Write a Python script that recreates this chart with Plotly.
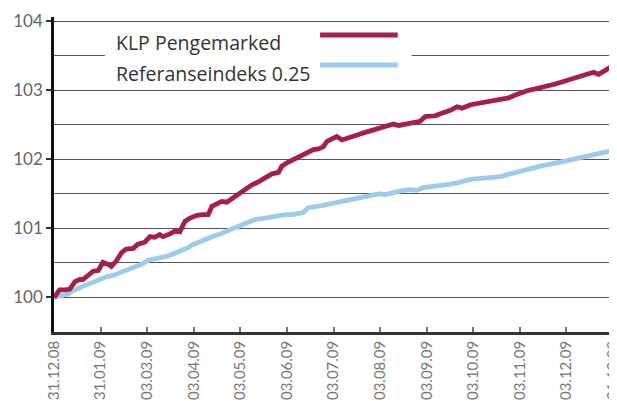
import plotly.graph_objects as go

# x in units of tick intervals (0 = 31.12.08, 12 = 31.12.09)
tick_labels = ["31.12.08", "31.01.09", "03.03.09", "03.04.09", "03.05.09", "03.06.09",
               "03.07.09", "03.08.09", "03.09.09", "03.10.09", "03.11.09", "03.12.09", "31.12.09"]

klp_x = [0, 0.12, 0.26, 0.34, 0.45, 0.55, 0.62, 0.73, 0.84, 0.95, 1.05, 1.16, 1.23, 1.34, 1.45,
         1.55, 1.70, 1.80, 1.95, 2.06, 2.16, 2.27, 2.34, 2.49, 2.59, 2.70, 2.81, 2.92, 3.07, 3.21,
         3.31, 3.39, 3.49, 3.60, 3.71, 3.82, 3.92, 4.03, 4.14, 4.25, 4.35, 4.46, 4.57, 4.68, 4.82,
         4.89, 5.00, 5.11, 5.25, 5.35, 5.46, 5.57, 5.68, 5.78, 5.86, 5.93, 6.07, 6.18, 6.29, 6.43,
         6.54, 6.68, 6.82, 6.97, 7.11, 7.29, 7.40, 7.54, 7.68, 7.86, 7.97, 8.08, 8.18, 8.29, 8.40,
         8.51, 8.65, 8.76, 8.94, 9.11, 9.26, 9.40, 9.51, 9.62, 9.76, 9.90, 10.05, 10.19, 10.33,
         10.48, 10.62, 10.76, 10.90, 11.05, 11.19, 11.33, 11.48, 11.58, 11.69, 11.83, 11.94, 12.0]
klp_y = [100.0, 100.11, 100.11, 100.12, 100.23, 100.26, 100.26, 100.32, 100.38, 100.39, 100.51,
         100.48, 100.45, 100.53, 100.65, 100.70, 100.71, 100.77, 100.80, 100.88, 100.87, 100.91,
         100.88, 100.92, 100.96, 100.95, 101.10, 101.15, 101.19, 101.20, 101.20, 101.32, 101.36,
         101.39, 101.38, 101.43, 101.48, 101.54, 101.57, 101.63, 101.66, 101.70, 101.75, 101.79,
         101.81, 101.90, 101.95, 101.99, 102.03, 102.07, 102.10, 102.14, 102.15, 102.18, 102.26,
         102.28, 102.33, 102.28, 102.31, 102.33, 102.36, 102.39, 102.42, 102.44, 102.48, 102.51,
         102.49, 102.51, 102.53, 102.55, 102.62, 102.63, 102.63, 102.66, 102.68, 102.71, 102.76,
         102.74, 102.79, 102.81, 102.83, 102.85, 102.87, 102.87, 102.89, 102.93, 102.97, 103.00,
         103.02, 103.04, 103.07, 103.09, 103.12, 103.15, 103.18, 103.21, 103.25, 103.26, 103.23,
         103.28, 103.33, 103.33]

ref_x = [0, 0.16, 0.30, 0.41, 0.52, 0.66, 0.77, 0.87, 1.02, 1.12, 1.27, 1.38, 1.52, 1.66, 1.80,
         1.91, 2.02, 2.16, 2.31, 2.45, 2.59, 2.73, 2.88, 2.97, 3.10, 3.24, 3.39, 3.53, 3.67, 3.82,
         3.96, 4.10, 4.21, 4.32, 4.46, 4.60, 4.75, 4.89, 4.96, 5.11, 5.25, 5.35, 5.46, 5.61, 5.75,
         5.89, 6.11, 6.25, 6.39, 6.54, 6.68, 6.82, 6.97, 7.11, 7.22, 7.36, 7.50, 7.65, 7.79, 7.93,
         8.08, 8.22, 8.36, 8.51, 8.65, 8.79, 8.94, 9.58, 9.94, 10.44, 10.87, 11.36, 11.68, 12.0]
ref_y = [100.0, 100.02, 100.05, 100.10, 100.13, 100.16, 100.19, 100.23, 100.26, 100.30, 100.32,
         100.35, 100.38, 100.42, 100.46, 100.49, 100.54, 100.56, 100.59, 100.60, 100.64, 100.67,
         100.72, 100.76, 100.80, 100.84, 100.88, 100.91, 100.95, 100.99, 101.02, 101.06, 101.10,
         101.13, 101.14, 101.16, 101.18, 101.19, 101.20, 101.20, 101.22, 101.23, 101.30, 101.31,
         101.33, 101.35, 101.38, 101.40, 101.43, 101.44, 101.47, 101.49, 101.50, 101.49, 101.51,
         101.53, 101.55, 101.56, 101.55, 101.59, 101.60, 101.61, 101.62, 101.64, 101.66, 101.68,
         101.71, 101.75, 101.82, 101.90, 101.96, 102.03, 102.09, 102.13]

series_names = ["KLP Pengemarked", "Referanseindeks 0.25"]
red = "#A51E4C"
blue = "#9DCBEC"
font = "Lato"
legend_font = "Open Sans"

fig = go.Figure()
fig.add_trace(go.Scatter(x=ref_x, y=ref_y, mode="lines", name=series_names[1],
                         line=dict(color=blue, width=4.8), showlegend=False))
fig.add_trace(go.Scatter(x=klp_x, y=klp_y, mode="lines", name=series_names[0],
                         line=dict(color=red, width=4.8), showlegend=False))

# Manual legend (text left, line sample right, white box over gridlines)
fig.add_shape(type="rect", xref="paper", yref="paper", x0=0.091, x1=0.64, y0=0.781, y1=0.978,
              fillcolor="white", line=dict(width=0), layer="above")
text_y = [0.919, 0.820]
line_y = [0.943, 0.848]
for name, col, ty, ly in zip(series_names, [red, blue], text_y, line_y):
    fig.add_annotation(xref="paper", yref="paper", x=0.107, y=ty, text=name,
                       showarrow=False, xanchor="left", yanchor="middle",
                       font=dict(family=legend_font, size=19.5, color="#333"))
    fig.add_shape(type="line", xref="paper", yref="paper", x0=0.476, x1=0.615, y0=ly, y1=ly,
                  line=dict(color=col, width=5), layer="above")

fig.update_layout(
    width=609, height=393,
    margin=dict(l=46, r=4, t=9, b=69),
    paper_bgcolor="white", plot_bgcolor="white",
    font=dict(family=font, color="#555"),
    showlegend=False,
)
fig.update_xaxes(
    range=[0, 12], tickvals=list(range(len(tick_labels))), ticktext=tick_labels,
    tickangle=-90, tickfont=dict(size=15, color="#777"), ticklabeloverflow="allow",
    ticks="inside", ticklen=5, tickwidth=1.5, tickcolor="#777",
    showline=True, linecolor="#333", linewidth=2.5,
    showgrid=False, zeroline=False, automargin=False,
)
fig.update_yaxes(
    range=[99.5, 104.06], tick0=100, dtick=1,
    tickfont=dict(size=17, color="#666"),
    ticks="outside", ticklen=5, tickwidth=1.5, tickcolor="#333",
    showline=True, linecolor="#111", linewidth=2.5,
    showgrid=True, gridcolor="#555", gridwidth=1.3,
    minor=dict(dtick=0.5, showgrid=True, gridcolor="#555", gridwidth=1.3, ticks=""),
    zeroline=False, automargin=False,
)

fig.write_html("out.html")
